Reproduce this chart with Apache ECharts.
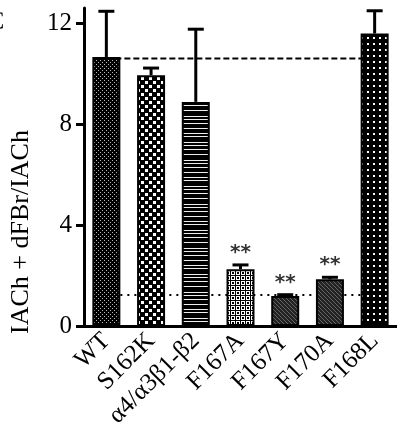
<!DOCTYPE html>
<html><head><meta charset="utf-8">
<script src="https://cdn.jsdelivr.net/npm/echarts@6/dist/echarts.min.js"></script>
<style>html,body{margin:0;padding:0;background:#fff}#c{width:397px;height:438px}</style>
</head><body><div id="c"></div>
<script>
const categories = ['WT', 'S162K', 'α4/α3β1-β2', 'F167A', 'F167Y', 'F170A', 'F168L'];
const values = [10.66, 9.94, 8.88, 2.25, 1.19, 1.85, 11.59];
const errors = [1.81, 0.28, 2.88, 0.17, 0.05, 0.08, 0.9];
const significance = ['', '', '', '**', '**', '**', ''];
const yTicks = [0, 4, 8, 12];
const refHigh = 10.6;
const refLow = 1.23;

function tile(w, h, bg, draw) {
  const c = document.createElement('canvas');
  c.width = w; c.height = h;
  const g = c.getContext('2d');
  g.fillStyle = bg; g.fillRect(0, 0, w, h);
  draw(g);
  return { image: c, repeat: 'repeat' };
}
const patterns = [
  tile(4, 4, '#000', g => { g.fillStyle = '#bbb'; g.fillRect(0, 0, 1, 1); g.fillRect(2, 2, 1, 1); }),
  tile(8, 8, '#000', g => { g.fillStyle = '#fff'; g.fillRect(1, 1, 3, 3); g.fillRect(5, 5, 3, 3); }),
  tile(4, 44, '#000', g => { g.fillStyle = '#eee'; [1, 4, 10, 13, 17, 22, 28, 31, 35, 40].forEach(y => g.fillRect(0, y, 4, 1)); }),
  tile(5, 5, '#fff', g => { g.fillStyle = '#000'; g.fillRect(0, 0, 5, 1); g.fillRect(0, 0, 1, 5); g.fillRect(2, 2, 2, 2); }),
  tile(4, 4, '#222', g => { g.fillStyle = '#666'; for (let i = 0; i < 4; i++) g.fillRect(i, i, 1, 1); }),
  tile(4, 4, '#222', g => { g.fillStyle = '#666'; for (let i = 0; i < 4; i++) g.fillRect(i, i, 1, 1); }),
  tile(6, 6, '#000', g => { g.fillStyle = '#fff'; g.fillRect(1, 1, 2, 2); })
];

const chart = echarts.init(document.getElementById('c'), null, { renderer: 'canvas' });
const serif = "'Liberation Serif', 'Times New Roman', Times, serif";
chart.setOption({
  animation: false,
  backgroundColor: '#fff',
  grid: { left: 82, right: 0, top: 8, bottom: 112, containLabel: false },
  graphic: [{ type: 'text', left: -13, top: 9, style: { text: 'C', font: "26px 'Liberation Serif', 'Times New Roman', serif", fill: '#000' } }],
  xAxis: {
    type: 'category', data: categories,
    axisLine: { lineStyle: { color: '#000', width: 3 } },
    axisTick: { alignWithLabel: true, length: 8, lineStyle: { color: '#000', width: 3 } },
    axisLabel: { rotate: 45, margin: 11, color: '#000', fontFamily: serif, fontSize: 25, interval: 0 }
  },
  yAxis: {
    type: 'value', min: 0, max: 12.6, interval: 4,
    name: 'IACh + dFBr/IACh', nameLocation: 'middle', nameGap: 50, nameRotate: 90,
    nameTextStyle: { color: '#000', fontFamily: serif, fontSize: 26, padding: [0, 130, 0, 0] },
    axisLine: { show: true, lineStyle: { color: '#000', width: 3 } },
    axisTick: { show: true, length: 8, customValues: yTicks, lineStyle: { color: '#000', width: 3 } },
    axisLabel: { customValues: yTicks, margin: 12, color: '#000', fontFamily: serif, fontSize: 25 },
    splitLine: { show: false }
  },
  series: [
    {
      type: 'custom', z: 1, silent: true,
      data: [[0, 6, refHigh, 0], [0, 6, refLow, 1]],
      encode: { x: 0, y: 2 },
      renderItem: (params, api) => {
        const a = api.coord([api.value(0), api.value(2)]);
        const b = api.coord([api.value(1), api.value(2)]);
        const dotted = api.value(3) === 1;
        return { type: 'line', shape: { x1: a[0], y1: a[1], x2: b[0], y2: b[1] },
          style: { stroke: '#000', lineWidth: dotted ? 2 : 1.8, lineDash: dotted ? [2, 5] : [6, 3] } };
      }
    },
    {
      type: 'bar', z: 2, barWidth: 28,
      data: values.map((v, i) => ({ value: v, itemStyle: { color: patterns[i] } })),
      itemStyle: { borderColor: '#000', borderWidth: 2 }
    },
    {
      type: 'custom', z: 3, silent: true,
      data: values.map((v, i) => [i, v, errors[i]]),
      encode: { x: 0, y: 1 },
      renderItem: (params, api) => {
        const i = api.value(0), v = api.value(1), e = api.value(2);
        const p0 = api.coord([i, v]);
        const p1 = api.coord([i, v + e]);
        const children = [
          { type: 'line', shape: { x1: p0[0], y1: p0[1], x2: p1[0], y2: p1[1] }, style: { stroke: '#000', lineWidth: 3 } },
          { type: 'line', shape: { x1: p1[0] - 8, y1: p1[1], x2: p1[0] + 8, y2: p1[1] }, style: { stroke: '#000', lineWidth: 3 } }
        ];
        const s = significance[i];
        if (s) children.push({ type: 'text', style: { text: s, x: p1[0], y: p1[1] - 2, align: 'center', verticalAlign: 'bottom', font: 'bold 20px "DejaVu Sans"', fill: '#333' } });
        return { type: 'group', children };
      }
    }
  ]
});
</script></body></html>
